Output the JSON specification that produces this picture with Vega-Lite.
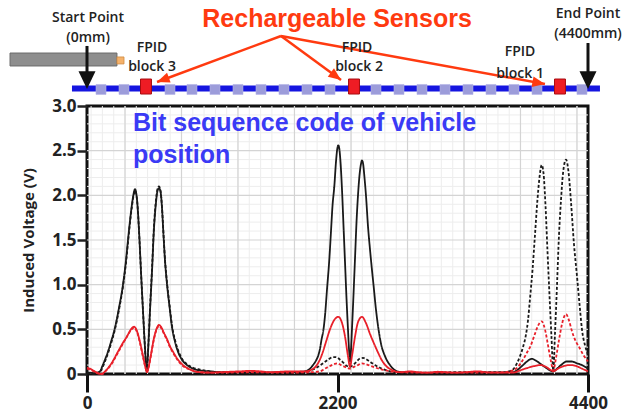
{
"$schema": "https://vega.github.io/schema/vega-lite/v6.json",
"width": 501, "height": 268,
"autosize": {"type": "none"},
"padding": {"left": 87, "top": 106, "right": 36, "bottom": 39},
"background": "white",
"config": {
 "view": {"stroke": "#111", "strokeWidth": 3},
 "font": "Open Sans",
 "axisX": {"grid": false, "domain": false, "tickSize": 18, "tickWidth": 3, "tickColor": "#111", "labelFont": "Open Sans", "labelFontWeight": "bold", "labelFontSize": 17, "labelColor": "#222", "labelPadding": 3, "labelFlush": false},
 "axisY": {"grid": false, "domain": false, "tickSize": 10, "tickWidth": 2.5, "tickColor": "#222", "labelFont": "Open Sans", "labelFontWeight": "bold", "labelFontSize": 17, "labelColor": "#222", "labelPadding": 1, "labelFlush": false, "titleFont": "Open Sans", "titleFontWeight": "bold", "titleFontSize": 15, "titleColor": "#222", "titlePadding": 15}
},
"datasets": {
"series": [
{"x":0,"v":0.02,"s":"bs"},{"x":61,"v":0.01,"s":"bs"},{"x":114,"v":0.03,"s":"bs"},{"x":132,"v":0.08,"s":"bs"},{"x":158,"v":0.16,"s":"bs"},{"x":184,"v":0.25,"s":"bs"},{"x":211,"v":0.36,"s":"bs"},{"x":246,"v":0.52,"s":"bs"},{"x":281,"v":0.74,"s":"bs"},{"x":316,"v":1.0,"s":"bs"},{"x":343,"v":1.28,"s":"bs"},{"x":360,"v":1.5,"s":"bs"},{"x":378,"v":1.72,"s":"bs"},{"x":395,"v":1.9,"s":"bs"},{"x":413,"v":2.04,"s":"bs"},{"x":422,"v":2.07,"s":"bs"},{"x":430,"v":2.04,"s":"bs"},{"x":444,"v":1.88,"s":"bs"},{"x":457,"v":1.6,"s":"bs"},{"x":474,"v":1.15,"s":"bs"},{"x":492,"v":0.7,"s":"bs"},{"x":509,"v":0.3,"s":"bs"},{"x":524,"v":0.03,"s":"bs"},{"x":540,"v":0.35,"s":"bs"},{"x":553,"v":0.7,"s":"bs"},{"x":571,"v":1.15,"s":"bs"},{"x":588,"v":1.62,"s":"bs"},{"x":606,"v":1.92,"s":"bs"},{"x":619,"v":2.05,"s":"bs"},{"x":632,"v":2.08,"s":"bs"},{"x":646,"v":2.04,"s":"bs"},{"x":659,"v":1.85,"s":"bs"},{"x":672,"v":1.55,"s":"bs"},{"x":685,"v":1.27,"s":"bs"},{"x":703,"v":1.0,"s":"bs"},{"x":725,"v":0.75,"s":"bs"},{"x":747,"v":0.52,"s":"bs"},{"x":773,"v":0.36,"s":"bs"},{"x":799,"v":0.25,"s":"bs"},{"x":834,"v":0.16,"s":"bs"},{"x":878,"v":0.1,"s":"bs"},{"x":931,"v":0.06,"s":"bs"},{"x":992,"v":0.04,"s":"bs"},{"x":1080,"v":0.03,"s":"bs"},{"x":1168,"v":0.02,"s":"bs"},{"x":1344,"v":0.015,"s":"bs"},{"x":1519,"v":0.01,"s":"bs"},{"x":1695,"v":0.02,"s":"bs"},{"x":1871,"v":0.025,"s":"bs"},{"x":1915,"v":0.03,"s":"bs"},{"x":1950,"v":0.05,"s":"bs"},{"x":1985,"v":0.1,"s":"bs"},{"x":2011,"v":0.15,"s":"bs"},{"x":2029,"v":0.2,"s":"bs"},{"x":2046,"v":0.28,"s":"bs"},{"x":2059,"v":0.38,"s":"bs"},{"x":2077,"v":0.5,"s":"bs"},{"x":2090,"v":0.65,"s":"bs"},{"x":2108,"v":0.95,"s":"bs"},{"x":2128,"v":1.28,"s":"bs"},{"x":2143,"v":1.6,"s":"bs"},{"x":2156,"v":1.88,"s":"bs"},{"x":2172,"v":2.1,"s":"bs"},{"x":2187,"v":2.38,"s":"bs"},{"x":2198,"v":2.52,"s":"bs"},{"x":2207,"v":2.56,"s":"bs"},{"x":2216,"v":2.52,"s":"bs"},{"x":2226,"v":2.38,"s":"bs"},{"x":2240,"v":2.05,"s":"bs"},{"x":2253,"v":1.65,"s":"bs"},{"x":2266,"v":1.25,"s":"bs"},{"x":2279,"v":0.85,"s":"bs"},{"x":2292,"v":0.5,"s":"bs"},{"x":2301,"v":0.28,"s":"bs"},{"x":2310,"v":0.14,"s":"bs"},{"x":2319,"v":0.28,"s":"bs"},{"x":2327,"v":0.5,"s":"bs"},{"x":2341,"v":0.9,"s":"bs"},{"x":2354,"v":1.3,"s":"bs"},{"x":2367,"v":1.7,"s":"bs"},{"x":2380,"v":2.0,"s":"bs"},{"x":2393,"v":2.22,"s":"bs"},{"x":2406,"v":2.35,"s":"bs"},{"x":2415,"v":2.39,"s":"bs"},{"x":2424,"v":2.36,"s":"bs"},{"x":2437,"v":2.2,"s":"bs"},{"x":2450,"v":2.0,"s":"bs"},{"x":2468,"v":1.65,"s":"bs"},{"x":2485,"v":1.4,"s":"bs"},{"x":2500,"v":1.2,"s":"bs"},{"x":2516,"v":1.0,"s":"bs"},{"x":2538,"v":0.72,"s":"bs"},{"x":2558,"v":0.52,"s":"bs"},{"x":2582,"v":0.34,"s":"bs"},{"x":2617,"v":0.2,"s":"bs"},{"x":2661,"v":0.1,"s":"bs"},{"x":2723,"v":0.03,"s":"bs"},{"x":2793,"v":0.015,"s":"bs"},{"x":2925,"v":0.01,"s":"bs"},{"x":3188,"v":0.01,"s":"bs"},{"x":3451,"v":0.015,"s":"bs"},{"x":3671,"v":0.015,"s":"bs"},{"x":3715,"v":0.02,"s":"bs"},{"x":3741,"v":0.02,"s":"bs"},{"x":3785,"v":0.05,"s":"bs"},{"x":3829,"v":0.1,"s":"bs"},{"x":3864,"v":0.14,"s":"bs"},{"x":3906,"v":0.17,"s":"bs"},{"x":3943,"v":0.15,"s":"bs"},{"x":3987,"v":0.11,"s":"bs"},{"x":4031,"v":0.07,"s":"bs"},{"x":4066,"v":0.04,"s":"bs"},{"x":4095,"v":0.03,"s":"bs"},{"x":4128,"v":0.06,"s":"bs"},{"x":4163,"v":0.1,"s":"bs"},{"x":4213,"v":0.14,"s":"bs"},{"x":4259,"v":0.14,"s":"bs"},{"x":4303,"v":0.12,"s":"bs"},{"x":4347,"v":0.1,"s":"bs"},{"x":4400,"v":0.06,"s":"bs"},
{"x":0,"v":0.01,"s":"bd"},{"x":70,"v":0.0,"s":"bd"},{"x":114,"v":0.02,"s":"bd"},{"x":132,"v":0.06,"s":"bd"},{"x":158,"v":0.14,"s":"bd"},{"x":184,"v":0.23,"s":"bd"},{"x":211,"v":0.34,"s":"bd"},{"x":246,"v":0.5,"s":"bd"},{"x":281,"v":0.72,"s":"bd"},{"x":316,"v":0.98,"s":"bd"},{"x":343,"v":1.25,"s":"bd"},{"x":360,"v":1.47,"s":"bd"},{"x":378,"v":1.7,"s":"bd"},{"x":395,"v":1.88,"s":"bd"},{"x":413,"v":2.02,"s":"bd"},{"x":422,"v":2.05,"s":"bd"},{"x":430,"v":2.03,"s":"bd"},{"x":444,"v":1.88,"s":"bd"},{"x":457,"v":1.6,"s":"bd"},{"x":474,"v":1.15,"s":"bd"},{"x":492,"v":0.7,"s":"bd"},{"x":509,"v":0.3,"s":"bd"},{"x":524,"v":0.03,"s":"bd"},{"x":540,"v":0.35,"s":"bd"},{"x":553,"v":0.72,"s":"bd"},{"x":571,"v":1.18,"s":"bd"},{"x":588,"v":1.65,"s":"bd"},{"x":606,"v":1.95,"s":"bd"},{"x":619,"v":2.07,"s":"bd"},{"x":632,"v":2.1,"s":"bd"},{"x":646,"v":2.05,"s":"bd"},{"x":659,"v":1.86,"s":"bd"},{"x":672,"v":1.56,"s":"bd"},{"x":685,"v":1.28,"s":"bd"},{"x":703,"v":1.02,"s":"bd"},{"x":725,"v":0.77,"s":"bd"},{"x":747,"v":0.54,"s":"bd"},{"x":773,"v":0.38,"s":"bd"},{"x":799,"v":0.27,"s":"bd"},{"x":834,"v":0.17,"s":"bd"},{"x":878,"v":0.11,"s":"bd"},{"x":931,"v":0.07,"s":"bd"},{"x":992,"v":0.05,"s":"bd"},{"x":1080,"v":0.03,"s":"bd"},{"x":1212,"v":0.02,"s":"bd"},{"x":1432,"v":0.02,"s":"bd"},{"x":1695,"v":0.015,"s":"bd"},{"x":1871,"v":0.02,"s":"bd"},{"x":1941,"v":0.03,"s":"bd"},{"x":1985,"v":0.05,"s":"bd"},{"x":2029,"v":0.08,"s":"bd"},{"x":2073,"v":0.12,"s":"bd"},{"x":2117,"v":0.16,"s":"bd"},{"x":2160,"v":0.19,"s":"bd"},{"x":2187,"v":0.19,"s":"bd"},{"x":2222,"v":0.16,"s":"bd"},{"x":2257,"v":0.12,"s":"bd"},{"x":2283,"v":0.09,"s":"bd"},{"x":2310,"v":0.08,"s":"bd"},{"x":2336,"v":0.1,"s":"bd"},{"x":2362,"v":0.13,"s":"bd"},{"x":2393,"v":0.17,"s":"bd"},{"x":2424,"v":0.18,"s":"bd"},{"x":2459,"v":0.16,"s":"bd"},{"x":2494,"v":0.13,"s":"bd"},{"x":2529,"v":0.1,"s":"bd"},{"x":2573,"v":0.07,"s":"bd"},{"x":2635,"v":0.04,"s":"bd"},{"x":2705,"v":0.02,"s":"bd"},{"x":2925,"v":0.015,"s":"bd"},{"x":3276,"v":0.02,"s":"bd"},{"x":3539,"v":0.02,"s":"bd"},{"x":3671,"v":0.02,"s":"bd"},{"x":3706,"v":0.03,"s":"bd"},{"x":3741,"v":0.05,"s":"bd"},{"x":3776,"v":0.12,"s":"bd"},{"x":3803,"v":0.2,"s":"bd"},{"x":3829,"v":0.3,"s":"bd"},{"x":3855,"v":0.44,"s":"bd"},{"x":3873,"v":0.6,"s":"bd"},{"x":3891,"v":0.85,"s":"bd"},{"x":3913,"v":1.17,"s":"bd"},{"x":3934,"v":1.55,"s":"bd"},{"x":3956,"v":1.95,"s":"bd"},{"x":3974,"v":2.2,"s":"bd"},{"x":3993,"v":2.34,"s":"bd"},{"x":4009,"v":2.25,"s":"bd"},{"x":4027,"v":1.88,"s":"bd"},{"x":4044,"v":1.38,"s":"bd"},{"x":4062,"v":0.88,"s":"bd"},{"x":4079,"v":0.42,"s":"bd"},{"x":4095,"v":0.04,"s":"bd"},{"x":4110,"v":0.45,"s":"bd"},{"x":4128,"v":1.0,"s":"bd"},{"x":4145,"v":1.55,"s":"bd"},{"x":4163,"v":1.95,"s":"bd"},{"x":4180,"v":2.24,"s":"bd"},{"x":4207,"v":2.4,"s":"bd"},{"x":4229,"v":2.26,"s":"bd"},{"x":4251,"v":1.92,"s":"bd"},{"x":4277,"v":1.45,"s":"bd"},{"x":4303,"v":1.1,"s":"bd"},{"x":4330,"v":0.72,"s":"bd"},{"x":4347,"v":0.5,"s":"bd"},{"x":4374,"v":0.32,"s":"bd"},{"x":4400,"v":0.22,"s":"bd"},
{"x":0,"v":0.07,"s":"rs"},{"x":26,"v":0.06,"s":"rs"},{"x":53,"v":0.04,"s":"rs"},{"x":88,"v":0.015,"s":"rs"},{"x":123,"v":0.0,"s":"rs"},{"x":167,"v":0.04,"s":"rs"},{"x":220,"v":0.13,"s":"rs"},{"x":272,"v":0.25,"s":"rs"},{"x":316,"v":0.35,"s":"rs"},{"x":351,"v":0.42,"s":"rs"},{"x":386,"v":0.5,"s":"rs"},{"x":413,"v":0.53,"s":"rs"},{"x":439,"v":0.48,"s":"rs"},{"x":465,"v":0.36,"s":"rs"},{"x":492,"v":0.2,"s":"rs"},{"x":514,"v":0.07,"s":"rs"},{"x":527,"v":0.02,"s":"rs"},{"x":540,"v":0.07,"s":"rs"},{"x":562,"v":0.22,"s":"rs"},{"x":588,"v":0.4,"s":"rs"},{"x":615,"v":0.52,"s":"rs"},{"x":632,"v":0.55,"s":"rs"},{"x":654,"v":0.52,"s":"rs"},{"x":676,"v":0.46,"s":"rs"},{"x":703,"v":0.39,"s":"rs"},{"x":729,"v":0.31,"s":"rs"},{"x":755,"v":0.25,"s":"rs"},{"x":799,"v":0.16,"s":"rs"},{"x":843,"v":0.1,"s":"rs"},{"x":905,"v":0.05,"s":"rs"},{"x":992,"v":0.02,"s":"rs"},{"x":1080,"v":0.015,"s":"rs"},{"x":1168,"v":0.02,"s":"rs"},{"x":1256,"v":0.025,"s":"rs"},{"x":1344,"v":0.03,"s":"rs"},{"x":1432,"v":0.035,"s":"rs"},{"x":1519,"v":0.03,"s":"rs"},{"x":1607,"v":0.02,"s":"rs"},{"x":1695,"v":0.025,"s":"rs"},{"x":1783,"v":0.03,"s":"rs"},{"x":1871,"v":0.03,"s":"rs"},{"x":1915,"v":0.03,"s":"rs"},{"x":1976,"v":0.05,"s":"rs"},{"x":2029,"v":0.12,"s":"rs"},{"x":2064,"v":0.22,"s":"rs"},{"x":2099,"v":0.36,"s":"rs"},{"x":2134,"v":0.5,"s":"rs"},{"x":2169,"v":0.6,"s":"rs"},{"x":2207,"v":0.64,"s":"rs"},{"x":2240,"v":0.57,"s":"rs"},{"x":2266,"v":0.42,"s":"rs"},{"x":2292,"v":0.2,"s":"rs"},{"x":2310,"v":0.08,"s":"rs"},{"x":2327,"v":0.2,"s":"rs"},{"x":2354,"v":0.42,"s":"rs"},{"x":2380,"v":0.58,"s":"rs"},{"x":2415,"v":0.64,"s":"rs"},{"x":2450,"v":0.57,"s":"rs"},{"x":2485,"v":0.45,"s":"rs"},{"x":2521,"v":0.34,"s":"rs"},{"x":2556,"v":0.24,"s":"rs"},{"x":2591,"v":0.15,"s":"rs"},{"x":2635,"v":0.08,"s":"rs"},{"x":2687,"v":0.04,"s":"rs"},{"x":2749,"v":0.02,"s":"rs"},{"x":2837,"v":0.03,"s":"rs"},{"x":2907,"v":0.02,"s":"rs"},{"x":2995,"v":0.015,"s":"rs"},{"x":3083,"v":0.025,"s":"rs"},{"x":3153,"v":0.02,"s":"rs"},{"x":3232,"v":0.015,"s":"rs"},{"x":3320,"v":0.02,"s":"rs"},{"x":3434,"v":0.03,"s":"rs"},{"x":3504,"v":0.02,"s":"rs"},{"x":3583,"v":0.015,"s":"rs"},{"x":3671,"v":0.015,"s":"rs"},{"x":3741,"v":0.015,"s":"rs"},{"x":3803,"v":0.04,"s":"rs"},{"x":3873,"v":0.07,"s":"rs"},{"x":3934,"v":0.09,"s":"rs"},{"x":3978,"v":0.1,"s":"rs"},{"x":4031,"v":0.08,"s":"rs"},{"x":4066,"v":0.05,"s":"rs"},{"x":4095,"v":0.03,"s":"rs"},{"x":4136,"v":0.06,"s":"rs"},{"x":4189,"v":0.09,"s":"rs"},{"x":4242,"v":0.1,"s":"rs"},{"x":4295,"v":0.09,"s":"rs"},{"x":4347,"v":0.06,"s":"rs"},{"x":4400,"v":0.03,"s":"rs"},
{"x":0,"v":0.06,"s":"rd"},{"x":44,"v":0.04,"s":"rd"},{"x":88,"v":0.01,"s":"rd"},{"x":132,"v":0.0,"s":"rd"},{"x":176,"v":0.05,"s":"rd"},{"x":220,"v":0.12,"s":"rd"},{"x":272,"v":0.24,"s":"rd"},{"x":316,"v":0.34,"s":"rd"},{"x":351,"v":0.42,"s":"rd"},{"x":386,"v":0.49,"s":"rd"},{"x":413,"v":0.52,"s":"rd"},{"x":439,"v":0.47,"s":"rd"},{"x":465,"v":0.35,"s":"rd"},{"x":492,"v":0.19,"s":"rd"},{"x":514,"v":0.07,"s":"rd"},{"x":527,"v":0.02,"s":"rd"},{"x":540,"v":0.07,"s":"rd"},{"x":562,"v":0.21,"s":"rd"},{"x":588,"v":0.39,"s":"rd"},{"x":615,"v":0.51,"s":"rd"},{"x":632,"v":0.54,"s":"rd"},{"x":654,"v":0.51,"s":"rd"},{"x":676,"v":0.45,"s":"rd"},{"x":703,"v":0.38,"s":"rd"},{"x":729,"v":0.3,"s":"rd"},{"x":755,"v":0.24,"s":"rd"},{"x":799,"v":0.15,"s":"rd"},{"x":843,"v":0.09,"s":"rd"},{"x":905,"v":0.05,"s":"rd"},{"x":992,"v":0.02,"s":"rd"},{"x":1168,"v":0.015,"s":"rd"},{"x":1432,"v":0.02,"s":"rd"},{"x":1695,"v":0.015,"s":"rd"},{"x":1958,"v":0.02,"s":"rd"},{"x":2046,"v":0.03,"s":"rd"},{"x":2090,"v":0.06,"s":"rd"},{"x":2134,"v":0.09,"s":"rd"},{"x":2169,"v":0.11,"s":"rd"},{"x":2196,"v":0.12,"s":"rd"},{"x":2231,"v":0.1,"s":"rd"},{"x":2266,"v":0.08,"s":"rd"},{"x":2310,"v":0.06,"s":"rd"},{"x":2345,"v":0.08,"s":"rd"},{"x":2380,"v":0.1,"s":"rd"},{"x":2415,"v":0.12,"s":"rd"},{"x":2450,"v":0.11,"s":"rd"},{"x":2494,"v":0.09,"s":"rd"},{"x":2538,"v":0.07,"s":"rd"},{"x":2591,"v":0.05,"s":"rd"},{"x":2661,"v":0.03,"s":"rd"},{"x":2749,"v":0.02,"s":"rd"},{"x":3012,"v":0.015,"s":"rd"},{"x":3364,"v":0.015,"s":"rd"},{"x":3671,"v":0.02,"s":"rd"},{"x":3715,"v":0.03,"s":"rd"},{"x":3741,"v":0.04,"s":"rd"},{"x":3785,"v":0.08,"s":"rd"},{"x":3829,"v":0.16,"s":"rd"},{"x":3864,"v":0.24,"s":"rd"},{"x":3891,"v":0.3,"s":"rd"},{"x":3926,"v":0.42,"s":"rd"},{"x":3961,"v":0.54,"s":"rd"},{"x":3993,"v":0.59,"s":"rd"},{"x":4022,"v":0.5,"s":"rd"},{"x":4049,"v":0.32,"s":"rd"},{"x":4075,"v":0.14,"s":"rd"},{"x":4095,"v":0.04,"s":"rd"},{"x":4119,"v":0.18,"s":"rd"},{"x":4145,"v":0.38,"s":"rd"},{"x":4172,"v":0.56,"s":"rd"},{"x":4207,"v":0.67,"s":"rd"},{"x":4233,"v":0.6,"s":"rd"},{"x":4259,"v":0.48,"s":"rd"},{"x":4295,"v":0.36,"s":"rd"},{"x":4323,"v":0.3,"s":"rd"},{"x":4356,"v":0.22,"s":"rd"},{"x":4400,"v":0.14,"s":"rd"}
],
"minorX": [{"g":36},{"g":135},{"g":235},{"g":334},{"g":433},{"g":532},{"g":631},{"g":731},{"g":830},{"g":929},{"g":1028},{"g":1128},{"g":1227},{"g":1326},{"g":1425},{"g":1525},{"g":1624},{"g":1723},{"g":1822},{"g":1922},{"g":2021},{"g":2120},{"g":2219},{"g":2319},{"g":2418},{"g":2517},{"g":2616},{"g":2716},{"g":2815},{"g":2914},{"g":3013},{"g":3112},{"g":3212},{"g":3311},{"g":3410},{"g":3509},{"g":3609},{"g":3708},{"g":3807},{"g":3906},{"g":4006},{"g":4105},{"g":4204},{"g":4303}],
"majorX": [{"g":334},{"g":830},{"g":1326},{"g":1822},{"g":2319},{"g":2815},{"g":3311},{"g":3807},{"g":4303}],
"minorY": [{"g":0.1},{"g":0.2},{"g":0.3},{"g":0.4},{"g":0.6},{"g":0.7},{"g":0.8},{"g":0.9},{"g":1.1},{"g":1.2},{"g":1.3},{"g":1.4},{"g":1.6},{"g":1.7},{"g":1.8},{"g":1.9},{"g":2.1},{"g":2.2},{"g":2.3},{"g":2.4},{"g":2.6},{"g":2.7},{"g":2.8},{"g":2.9}],
"majorY": [{"g":0.5},{"g":1.0},{"g":1.5},{"g":2.0},{"g":2.5}],
"cylinder": [{"x":-676,"x2":263,"y":3.593,"y2":3.448}],
"tip": [{"x":263,"x2":325,"y":3.549,"y2":3.471}],
"track": [{"x":-132,"x2":4505,"y":3.195}],
"squares": [{"x":123,"y":3.185},{"x":325,"y":3.185},{"x":729,"y":3.185},{"x":922,"y":3.185},{"x":1124,"y":3.185},{"x":1326,"y":3.185},{"x":1528,"y":3.185},{"x":1730,"y":3.185},{"x":1932,"y":3.185},{"x":2134,"y":3.185},{"x":2538,"y":3.185},{"x":2740,"y":3.185},{"x":2942,"y":3.185},{"x":3144,"y":3.185},{"x":3346,"y":3.185},{"x":3548,"y":3.185},{"x":3750,"y":3.185},{"x":3952,"y":3.185},{"x":4347,"y":3.185}],
"sensors": [{"x":518,"y":3.218},{"x":2345,"y":3.218},{"x":4154,"y":3.218}],
"shafts": [{"x":0,"y":3.672,"y2":3.36},{"x":4400,"y":3.705,"y2":3.36}],
"heads": [{"x":0,"y":3.19},{"x":4400,"y":3.19}],
"redArrows": [{"x":1704,"y":3.784,"x2":615,"y2":3.269},{"x":1704,"y":3.784,"x2":2231,"y2":3.291},{"x":1704,"y":3.784,"x2":4022,"y2":3.246}],
"labels": [{"x":9,"y":3.985,"t":"Start Point"},{"x":9,"y":3.761,"t":"(0mm)"},{"x":4400,"y":4.03,"t":"End Point"},{"x":4400,"y":3.806,"t":"(4400mm)"},{"x":571,"y":3.649,"t":"FPID"},{"x":571,"y":3.436,"t":"block 3"},{"x":2371,"y":3.649,"t":"FPID"},{"x":2389,"y":3.436,"t":"block 2"},{"x":3803,"y":3.604,"t":"FPID"},{"x":3803,"y":3.36,"t":"block 1"}],
"redTitle": [{"x":2196,"y":3.974,"t":"Rechargeable Sensors"}],
"blueNote": [{"x":404,"y":2.72,"t":"Bit sequence code of vehicle"},{"x":404,"y":2.362,"t":"position"}]
},
"layer": [
{"data": {"name": "minorX"}, "mark": {"type": "rule", "color": "#ededed", "strokeWidth": 1},
 "encoding": {"x": {"field": "g", "type": "quantitative", "scale": {"domain": [0, 4400], "nice": false}}}},
{"data": {"name": "minorY"}, "mark": {"type": "rule", "color": "#ededed", "strokeWidth": 1},
 "encoding": {"y": {"field": "g", "type": "quantitative", "scale": {"domain": [0, 3], "nice": false}}}},
{"data": {"name": "majorX"}, "mark": {"type": "rule", "color": "#d4d4d4", "strokeWidth": 1.2},
 "encoding": {"x": {"field": "g", "type": "quantitative"}}},
{"data": {"name": "majorY"}, "mark": {"type": "rule", "color": "#d4d4d4", "strokeWidth": 1.2},
 "encoding": {"y": {"field": "g", "type": "quantitative"}}},
{"data": {"name": "series"}, "mark": {"type": "line", "strokeWidth": 1.8, "interpolate": "monotone"},
 "encoding": {
  "x": {"field": "x", "type": "quantitative", "scale": {"domain": [0, 4400], "nice": false},
        "axis": {"values": [0, 2200, 4400], "title": null, "format": "d"}},
  "y": {"field": "v", "type": "quantitative", "scale": {"domain": [0, 3], "nice": false},
        "axis": {"values": [0, 0.5, 1, 1.5, 2, 2.5, 3], "title": "Induced Voltage (V)", "labelExpr": "datum.value == 0 ? '0' : format(datum.value, '.1f')"}},
  "color": {"field": "s", "type": "nominal", "scale": {"domain": ["bd", "bs", "rd", "rs"], "range": ["#1a1a1a", "#1a1a1a", "#e8202a", "#e8202a"]}, "legend": null},
  "strokeDash": {"field": "s", "type": "nominal", "scale": {"domain": ["bd", "bs", "rd", "rs"], "range": [[3, 2], [1, 0], [3, 2], [1, 0]]}, "legend": null}
 }},
{"data": {"name": "cylinder"}, "mark": {"type": "rect", "fill": "#8e8e8e", "stroke": "#6a6a6a", "strokeWidth": 1},
 "encoding": {"x": {"field": "x", "type": "quantitative"}, "x2": {"field": "x2"}, "y": {"field": "y", "type": "quantitative"}, "y2": {"field": "y2"}}},
{"data": {"name": "tip"}, "mark": {"type": "rect", "fill": "#f5b26b", "stroke": "#d08a40", "strokeWidth": 0.8},
 "encoding": {"x": {"field": "x", "type": "quantitative"}, "x2": {"field": "x2"}, "y": {"field": "y", "type": "quantitative"}, "y2": {"field": "y2"}}},
{"data": {"name": "track"}, "mark": {"type": "rule", "color": "#1515e0", "strokeWidth": 6},
 "encoding": {"x": {"field": "x", "type": "quantitative"}, "x2": {"field": "x2"}, "y": {"field": "y", "type": "quantitative"}}},
{"data": {"name": "squares"}, "mark": {"type": "point", "shape": "square", "size": 100, "filled": true, "opacity": 1, "color": "#9c9cda", "stroke": "#b4b4e6", "strokeWidth": 0.6},
 "encoding": {"x": {"field": "x", "type": "quantitative"}, "y": {"field": "y", "type": "quantitative"}}},
{"data": {"name": "sensors"}, "mark": {"type": "point", "shape": "M-0.73,-1L0.73,-1L0.73,1L-0.73,1Z", "size": 225, "filled": true, "opacity": 1, "fill": "#ee1c24", "stroke": "#a80c10", "strokeWidth": 1},
 "encoding": {"x": {"field": "x", "type": "quantitative"}, "y": {"field": "y", "type": "quantitative"}}},
{"data": {"name": "shafts"}, "mark": {"type": "rule", "color": "#111", "strokeWidth": 3},
 "encoding": {"x": {"field": "x", "type": "quantitative"}, "y": {"field": "y", "type": "quantitative"}, "y2": {"field": "y2"}}},
{"data": {"name": "heads"}, "mark": {"type": "point", "shape": "M0,0L-1,-2.1L1,-2.1Z", "size": 289, "filled": true, "opacity": 1, "fill": "#111", "strokeWidth": 0},
 "encoding": {"x": {"field": "x", "type": "quantitative"}, "y": {"field": "y", "type": "quantitative"}}},
{"data": {"name": "redArrows"}, "mark": {"type": "rule", "color": "#ff3a10", "strokeWidth": 2.5},
 "encoding": {"x": {"field": "x", "type": "quantitative"}, "x2": {"field": "x2"}, "y": {"field": "y", "type": "quantitative"}, "y2": {"field": "y2"}}},
{"data": {"name": "redArrows"},
 "transform": [{"calculate": "atan2((datum.x2 - datum.x) * 501 / 4400, (datum.y2 - datum.y) * 268 / 3) * 180 / PI", "as": "ang"}],
 "mark": {"type": "point", "shape": "M0,0L-0.75,1.8L0.75,1.8Z", "size": 196, "filled": true, "opacity": 1, "fill": "#ff3a10", "strokeWidth": 0},
 "encoding": {"x": {"field": "x2", "type": "quantitative"}, "y": {"field": "y2", "type": "quantitative"}, "angle": {"field": "ang", "type": "quantitative", "scale": null}}},
{"data": {"name": "labels"}, "mark": {"type": "text", "font": "Open Sans", "fontWeight": 600, "fontSize": 14, "color": "#222", "align": "center", "baseline": "middle"},
 "encoding": {"x": {"field": "x", "type": "quantitative"}, "y": {"field": "y", "type": "quantitative"}, "text": {"field": "t"}}},
{"data": {"name": "redTitle"}, "mark": {"type": "text", "font": "Liberation Sans", "fontWeight": "bold", "fontSize": 25, "color": "#ff3a10", "align": "center", "baseline": "middle"},
 "encoding": {"x": {"field": "x", "type": "quantitative"}, "y": {"field": "y", "type": "quantitative"}, "text": {"field": "t"}}},
{"data": {"name": "blueNote"}, "mark": {"type": "text", "font": "Liberation Sans", "fontWeight": "bold", "fontSize": 25, "color": "#3a3af5", "align": "left", "baseline": "alphabetic"},
 "encoding": {"x": {"field": "x", "type": "quantitative"}, "y": {"field": "y", "type": "quantitative"}, "text": {"field": "t"}}}
]
}
